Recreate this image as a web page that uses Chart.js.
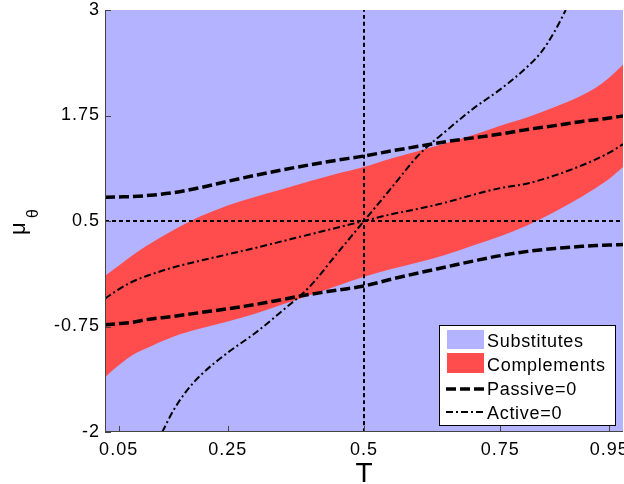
<!DOCTYPE html>
<html>
<head>
<meta charset="utf-8">
<script src="https://cdn.jsdelivr.net/npm/chart.js@4.4.1/dist/chart.umd.min.js"></script>
<style>
    html, body { margin: 0; padding: 0; background: #fff; }
</style>
</head>
<body>
<canvas id="chart" width="624" height="484"></canvas>
<script>
const tGrid = [0.025, 0.05, 0.075, 0.1, 0.15, 0.2, 0.25, 0.3, 0.35, 0.4, 0.45, 0.5,
               0.55, 0.6, 0.65, 0.7, 0.75, 0.8, 0.85, 0.9, 0.925, 0.95, 0.975];
const complementsUpper = [-0.15, -0.03, 0.09, 0.20, 0.39, 0.555, 0.685, 0.785, 0.875, 0.97, 1.06, 1.14,
                          1.24, 1.33, 1.42, 1.52, 1.63, 1.73, 1.85, 1.99, 2.08, 2.20, 2.35];
const complementsLower = [-1.35, -1.21, -1.09, -1.01, -0.87, -0.775, -0.69, -0.60, -0.49, -0.38, -0.27, -0.16,
                          -0.07, 0.01, 0.10, 0.21, 0.32, 0.45, 0.61, 0.79, 0.89, 1.00, 1.14];
const passiveUpper = [0.78, 0.785, 0.79, 0.80, 0.835, 0.895, 0.97, 1.04, 1.105, 1.165, 1.22, 1.27,
                      1.33, 1.385, 1.44, 1.485, 1.53, 1.585, 1.63, 1.68, 1.70, 1.72, 1.745];
const passiveLower = [-0.73, -0.715, -0.70, -0.67, -0.63, -0.585, -0.54, -0.49, -0.43, -0.37, -0.32, -0.27,
                      -0.19, -0.115, -0.045, 0.025, 0.09, 0.14, 0.175, 0.20, 0.21, 0.215, 0.222];
const activeFlat = [-0.42, -0.31, -0.22, -0.155, -0.05, 0.03, 0.105, 0.18, 0.26, 0.34, 0.42, 0.50,
                    0.58, 0.645, 0.72, 0.81, 0.89, 0.945, 1.04, 1.16, 1.23, 1.31, 1.41];
const steepT = [0.13, 0.15, 0.175, 0.2, 0.25, 0.3, 0.35, 0.4, 0.45, 0.5,
                0.55, 0.6, 0.65, 0.7, 0.75, 0.8, 0.825, 0.85, 0.87];
const activeSteep = [-2.0, -1.75, -1.51, -1.33, -1.06, -0.83, -0.565, -0.28, 0.11, 0.5,
                     0.89, 1.28, 1.565, 1.83, 2.06, 2.33, 2.5, 2.75, 3.0];
const refT = 0.5;
const refMu = 0.5;
const xRange = [0.025, 0.975];
const yRange = [-2, 3];
const xTicks = [0.05, 0.25, 0.5, 0.75, 0.95];
const yTicks = [-2, -0.75, 0.5, 1.75, 3];
const legendLabels = ["Substitutes", "Complements", "Passive=0", "Active=0"];

const BLUE = "rgb(179,179,255)";
const RED = "rgb(255,77,77)";
const FONT = '"Liberation Sans", Arial, sans-serif';

const PASSIVE_DASH = [10, 4];
const ACTIVE_DASH = [7, 3, 2, 3];
const DOT_DASH = [4, 3];

function pts(xs, ys) {
    return xs.map((x, i) => ({ x: x, y: ys[i] }));
}

function curve(data, dash, width) {
    return {
        data: data,
        borderColor: "#000",
        borderWidth: width,
        borderDash: dash,
        pointRadius: 0,
        fill: false,
        cubicInterpolationMode: "monotone",
        order: 1
    };
}

const background = {
    id: "background",
    beforeDraw(chart) {
        const { ctx, chartArea: a } = chart;
        ctx.letterSpacing = "1px";
        ctx.save();
        ctx.fillStyle = BLUE;
        ctx.fillRect(a.left, a.top, a.right - a.left, a.bottom - a.top);
        ctx.restore();
    }
};

function drawLegend(ctx) {
    ctx.save();
    ctx.fillStyle = "#fff";
    ctx.fillRect(439.5, 325.5, 176, 100);
    ctx.strokeStyle = "#000";
    ctx.lineWidth = 1;
    ctx.strokeRect(439.5, 325.5, 176, 100);

    ctx.fillStyle = BLUE;
    ctx.fillRect(447, 330, 37, 19);
    ctx.fillStyle = RED;
    ctx.fillRect(447, 353, 37, 20);

    ctx.strokeStyle = "#000";
    ctx.lineWidth = 3.5;
    ctx.setLineDash(PASSIVE_DASH);
    ctx.beginPath();
    ctx.moveTo(446, 389);
    ctx.lineTo(484, 389);
    ctx.stroke();

    ctx.lineWidth = 2;
    ctx.setLineDash(ACTIVE_DASH);
    ctx.beginPath();
    ctx.moveTo(446, 412);
    ctx.lineTo(484, 412);
    ctx.stroke();
    ctx.setLineDash([]);

    ctx.fillStyle = "#000";
    ctx.font = "18px " + FONT;
    ctx.letterSpacing = "0.7px";
    ctx.textAlign = "left";
    ctx.textBaseline = "alphabetic";
    const baselines = [347, 371, 395, 419];
    legendLabels.forEach((label, i) => ctx.fillText(label, 487, baselines[i]));
    ctx.restore();
}

const frame = {
    id: "frame",
    afterDraw(chart) {
        const { ctx, chartArea: a } = chart;
        const xs = chart.scales.x;
        const ys = chart.scales.y;
        ctx.save();
        ctx.strokeStyle = "#444";
        ctx.lineWidth = 1;
        ctx.beginPath();
        ctx.moveTo(a.left + 0.5, a.top);
        ctx.lineTo(a.left + 0.5, a.bottom);
        ctx.moveTo(a.left, a.bottom - 0.5);
        ctx.lineTo(a.right, a.bottom - 0.5);
        yTicks.forEach(v => {
            const py = Math.round(ys.getPixelForValue(v)) + 0.5;
            ctx.moveTo(a.left, py);
            ctx.lineTo(a.left + 6, py);
        });
        xTicks.forEach(v => {
            const px = Math.round(xs.getPixelForValue(v)) + 0.5;
            ctx.moveTo(px, a.bottom);
            ctx.lineTo(px, a.bottom - 6);
        });
        ctx.stroke();

        ctx.letterSpacing = "0px";
        ctx.fillStyle = "#000";
        ctx.textAlign = "center";
        ctx.textBaseline = "alphabetic";
        ctx.font = "28px " + FONT;
        ctx.fillText("T", xs.getPixelForValue(refT), 482);

        ctx.translate(25, 235);
        ctx.rotate(-Math.PI / 2);
        ctx.textAlign = "left";
        ctx.font = "22px " + FONT;
        ctx.fillText("μ", 0, 0);
        ctx.font = "16px " + FONT;
        ctx.fillText("θ", 17, 13);
        ctx.restore();

        drawLegend(ctx);
    }
};

new Chart(document.getElementById("chart"), {
    type: "line",
    data: {
        datasets: [
            {
                label: "Complements",
                data: pts(tGrid, complementsUpper),
                borderWidth: 0,
                pointRadius: 0,
                backgroundColor: RED,
                fill: "+1",
                cubicInterpolationMode: "monotone",
                order: 3
            },
            {
                label: "ComplementsLower",
                data: pts(tGrid, complementsLower),
                borderWidth: 0,
                pointRadius: 0,
                fill: false,
                cubicInterpolationMode: "monotone",
                order: 3
            },
            Object.assign(curve([{ x: xRange[0], y: refMu }, { x: xRange[1], y: refMu }], DOT_DASH, 2), { order: 2 }),
            Object.assign(curve([{ x: refT, y: yRange[0] }, { x: refT, y: yRange[1] }], DOT_DASH, 2), { order: 2 }),
            curve(pts(tGrid, passiveUpper), PASSIVE_DASH, 3.5),
            curve(pts(tGrid, passiveLower), PASSIVE_DASH, 3.5),
            curve(pts(tGrid, activeFlat), ACTIVE_DASH, 2),
            curve(pts(steepT, activeSteep), ACTIVE_DASH, 2)
        ]
    },
    options: {
        responsive: false,
        animation: false,
        events: [],
        layout: { padding: { top: 10, right: 1, left: 0, bottom: 0 } },
        plugins: {
            legend: { display: false },
            tooltip: { enabled: false },
            filler: { drawTime: "beforeDatasetsDraw" }
        },
        scales: {
            x: {
                type: "linear",
                min: xRange[0],
                max: xRange[1],
                grid: { display: false, drawTicks: false },
                border: { display: false },
                afterBuildTicks: s => { s.ticks = xTicks.map(v => ({ value: v })); },
                afterFit: s => { s.height = 52; s.paddingLeft = 0; s.paddingRight = 0; },
                ticks: {
                    autoSkip: false,
                    maxRotation: 0,
                    padding: 7,
                    color: "#000",
                    font: { family: FONT, size: 18 },
                    callback: v => String(v)
                }
            },
            y: {
                type: "linear",
                min: yRange[0],
                max: yRange[1],
                grid: { display: false, drawTicks: false },
                border: { display: false },
                afterBuildTicks: s => { s.ticks = yTicks.map(v => ({ value: v })); },
                afterFit: s => { s.width = 105; s.paddingTop = 0; s.paddingBottom = 0; },
                ticks: {
                    autoSkip: false,
                    padding: 5,
                    color: "#000",
                    font: { family: FONT, size: 18 },
                    callback: v => String(v)
                }
            }
        }
    },
    plugins: [background, frame]
});
</script>
</body>
</html>
